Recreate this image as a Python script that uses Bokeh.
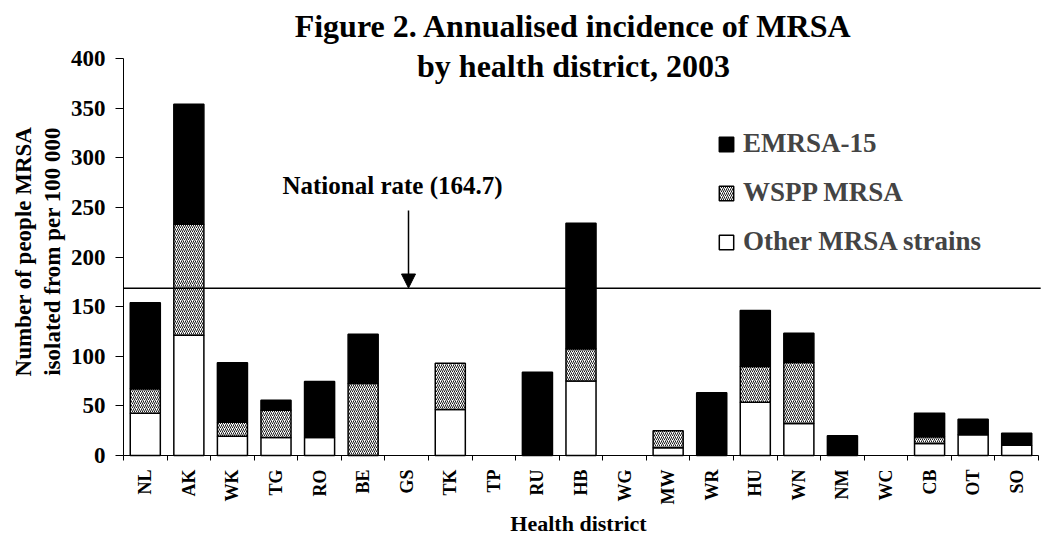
import math
from bokeh.plotting import figure
from bokeh.models import (Range1d, FixedTicker, Label, Arrow, NormalHead,
                          Legend, LegendItem, ColumnDataSource)
from bokeh.transform import stack
from bokeh.embed import file_html
from bokeh.resources import INLINE

# ---- data ----
districts = ["NL", "AK", "WK", "TG", "RO", "BE", "GS", "TK", "TP", "RU", "HB",
             "WG", "MW", "WR", "HU", "WN", "NM", "WC", "CB", "OT", "SO"]
other = [42.6, 121.2, 19.4, 18.1, 18.1, 0, 0, 46.3, 0, 0, 75.0,
         0, 7.8, 0, 53.7, 32.2, 0, 0, 12.1, 20.8, 10.4]
wspp = [24.6, 111.8, 14.2, 27.5, 0, 72.5, 0, 46.7, 0, 0, 32.6,
        0, 17.1, 0, 36.0, 61.5, 0, 0, 6.7, 0, 0]
emrsa = [86.7, 120.8, 59.8, 10.1, 56.5, 49.7, 0, 0, 0, 83.9, 126.3,
         0, 0, 63.2, 56.4, 29.5, 19.8, 0, 23.8, 15.8, 12.1]
series_labels = ["EMRSA-15", "WSPP MRSA", "Other MRSA strains"]
national_rate_text = "National rate (164.7)"
national_line_level = 168.5  # where the line is drawn in the picture
y_ticks = [0, 50, 100, 150, 200, 250, 300, 350, 400]
y_max = 400

FONT = "Liberation Serif"

# ---- layout (pixels) ----
W, H = 1053, 535
PLOT_L, PLOT_R, PLOT_T, PLOT_B = 123, 1038, 58, 455
n = len(districts)
px_per_cat = (PLOT_R - PLOT_L) / n
px_per_unit = (PLOT_B - PLOT_T) / y_max

x_range = Range1d(-PLOT_L / px_per_cat, n + (W - PLOT_R) / px_per_cat)
y_range = Range1d(-(H - PLOT_B) / px_per_unit, PLOT_B / px_per_unit)

x_pos = [i + 0.5 for i in range(n)]
source = ColumnDataSource(dict(
    x=x_pos, other=other, wspp=wspp, emrsa=emrsa,
    a_other=[1 if v > 0 else 0 for v in other],
    a_wspp=[1 if v > 0 else 0 for v in wspp],
    a_emrsa=[1 if v > 0 else 0 for v in emrsa],
))

p = figure(width=W, height=H, x_range=x_range, y_range=y_range,
           output_backend="svg", toolbar_location=None, min_border=0)
p.outline_line_color = None
p.xgrid.visible = False
p.ygrid.visible = False

BW = 0.69
r_other = p.vbar(x="x", bottom=0, top=stack("other"), width=BW, source=source,
                 fill_color="white", line_color="black", line_width=1.5,
                 line_alpha="a_other")
r_wspp = p.vbar(x="x", bottom=stack("other"), top=stack("other", "wspp"), width=BW,
                source=source, fill_color="white", line_color="black", line_width=1.5,
                line_alpha="a_wspp",
                hatch_pattern="/", hatch_scale=4, hatch_weight=0.9, hatch_color="black")
r_emrsa = p.vbar(x="x", bottom=stack("other", "wspp"), top=stack("other", "wspp", "emrsa"),
                 width=BW, source=source, fill_color="black", line_color="black",
                 line_width=1.5, line_alpha="a_emrsa")

# national rate line + arrow
p.line(x=[0, n + 0.05], y=[national_line_level, national_line_level],
       line_color="black", line_width=1.5)
p.add_layout(Arrow(end=NormalHead(size=14, fill_color="black", line_color="black"),
                   x_start=408, y_start=H - 210, x_end=408, y_end=H - 287.5,
                   start_units="screen", end_units="screen",
                   line_color="black", line_width=1.5))

# axes, drawn at data zero inside the frame
ya = p.yaxis[0]
ya.fixed_location = 0
ya.bounds = (0, y_max)
ya.ticker = FixedTicker(ticks=y_ticks)
ya.major_tick_out = 8
ya.major_tick_in = 0
ya.minor_tick_out = 0
ya.minor_tick_in = 0
ya.major_label_standoff = 10
ya.major_label_text_font = FONT
ya.major_label_text_font_style = "bold"
ya.major_label_text_font_size = "23px"
ya.major_label_text_color = "black"
ya.axis_line_color = "black"
ya.major_tick_line_color = "black"

xa = p.xaxis[0]
xa.fixed_location = 0
xa.bounds = (0, n)
xa.ticker = FixedTicker(ticks=x_pos, minor_ticks=list(range(n + 1)))
xa.major_label_overrides = {x: d for x, d in zip(x_pos, districts)}
xa.major_tick_out = 0
xa.major_tick_in = 0
xa.minor_tick_out = 5
xa.minor_tick_in = 0
xa.minor_tick_line_color = "black"
xa.major_label_orientation = math.pi / 2
xa.major_label_standoff = 9
xa.major_label_text_font = FONT
xa.major_label_text_font_style = "bold"
xa.major_label_text_font_size = "18px"
xa.major_label_text_color = "black"
xa.axis_line_color = "black"


def lbl(text, x, y, size, angle=0):
    # x, y: pixels from the top-left of the picture
    p.add_layout(Label(x=x, y=H - y, x_units="screen", y_units="screen", text=text,
                       angle=angle, text_align="center", text_baseline="middle",
                       text_font=FONT, text_font_style="bold", text_font_size=size,
                       text_color="black"))


lbl("Figure 2. Annualised incidence of MRSA", 573, 25, "32px")
lbl("by health district, 2003", 573, 65, "32px")
lbl(national_rate_text, 392, 185, "25px")
lbl("Number of people MRSA", 23, 251, "23px", math.pi / 2)
lbl("isolated from per 100 000", 52, 251, "23px", math.pi / 2)
lbl("Health district", 578, 523, "22px")

legend = Legend(items=[LegendItem(label=series_labels[0], renderers=[r_emrsa]),
                       LegendItem(label=series_labels[1], renderers=[r_wspp]),
                       LegendItem(label=series_labels[2], renderers=[r_other])],
                location=(717, H - 257), border_line_color=None, background_fill_alpha=0,
                label_text_font=FONT, label_text_font_style="bold",
                label_text_font_size="27px", glyph_width=18, glyph_height=18,
                label_standoff=8, spacing=18, padding=0, margin=0)
p.add_layout(legend)

open("out.html", "w").write(file_html(p, INLINE))
